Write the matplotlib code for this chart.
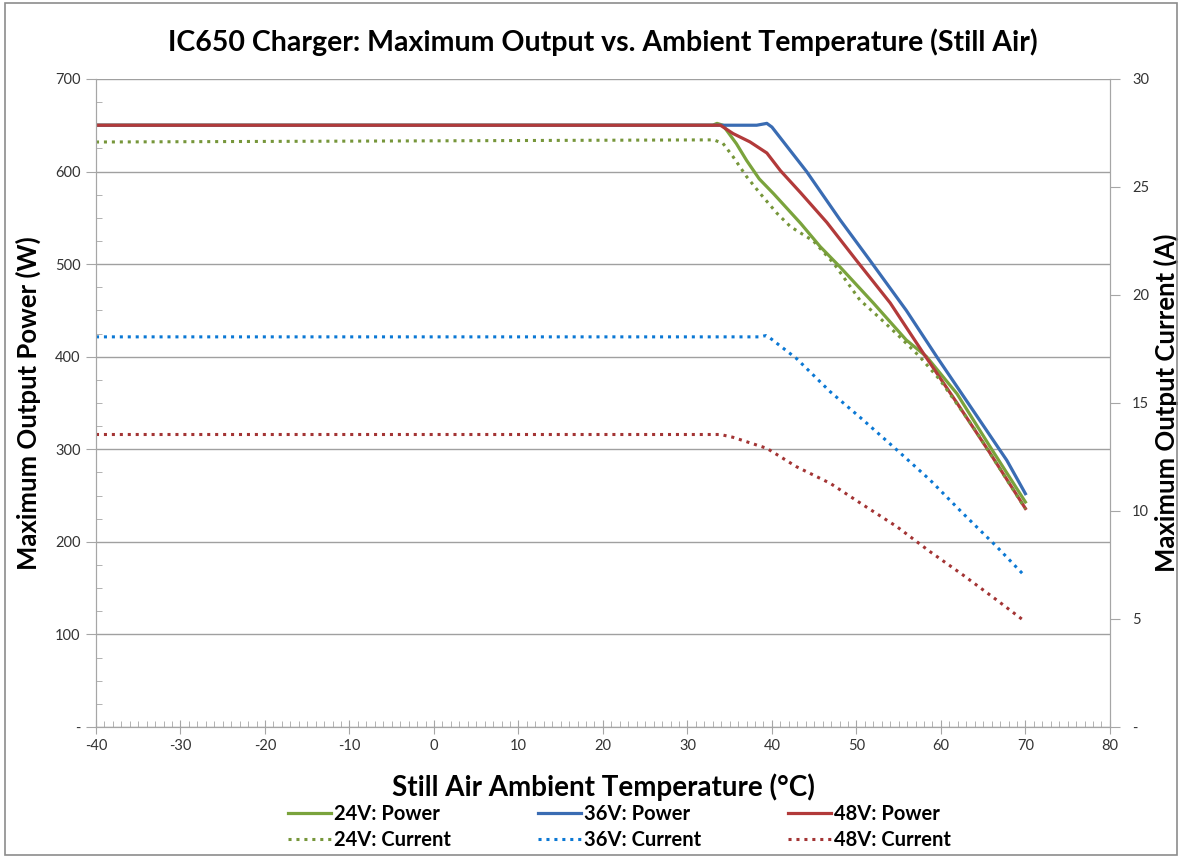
import matplotlib.pyplot as plt
from matplotlib.patches import Rectangle
from matplotlib.ticker import MultipleLocator, FuncFormatter

## Data ##
t_24_power = [-40, 33.0, 33.5, 34.2, 35.8, 37.0, 38.5, 40.2, 43.4, 45.7, 48.05, 52.0, 55.9, 58.3, 61.9, 65.8, 70]
w_24_power = [650, 650, 652, 650, 630, 612, 592, 576, 544, 519, 497, 458, 418, 400, 360, 303, 243]

t_36_power = [-40, 38.2, 39.4, 40.0, 44.1, 48.05, 51.6, 55.9, 59.5, 63.8, 67.8, 70]
w_36_power = [650, 650, 652, 648, 600, 548, 504, 450, 400, 342, 288, 252]

t_48_power = [-40, 33.9, 35.4, 37.4, 39.4, 41.0, 43.4, 46.5, 50.0, 54.0, 57.9, 61.9, 65.8, 70]
w_48_power = [650, 650, 641, 632, 620, 601, 577, 545, 504, 458, 404, 350, 296, 236]

t_24_current = [-40, 33.1, 34.2, 35.4, 37.0, 38.6, 40.6, 42.2, 44.9, 47.3, 50.4, 52.8, 55.1, 57.5, 59.9, 63.8, 70]
a_24_current = [27.08, 27.18, 27.02, 26.4, 25.48, 24.7, 23.78, 23.16, 22.5, 21.47, 19.77, 18.92, 18.07, 17.14, 16.06, 13.9, 10.1]

t_36_current = [-40, 38.6, 39.3, 39.8, 42.9, 46.9, 50.8, 54.8, 58.7, 62.6, 66.6, 70]
a_36_current = [18.06, 18.06, 18.12, 18.0, 17.06, 15.52, 14.21, 12.82, 11.44, 9.89, 8.35, 6.96]

t_48_current = [-40, 33.9, 35.4, 39.4, 42.9, 46.9, 50.8, 54.8, 58.7, 62.6, 66.6, 70]
a_48_current = [13.54, 13.54, 13.41, 12.9, 12.05, 11.28, 10.28, 9.27, 8.12, 7.04, 5.88, 4.87]

## Style ##
plt.rcParams['font.family'] = ['Lato', 'DejaVu Sans']
plt.rcParams['axes.unicode_minus'] = False
green = '#7aa33c'
blue = '#3a6cb3'
red = '#b23a3a'
green_dot = '#76963a'
blue_dot = '#0b78d4'
red_dot = '#a33434'
axis_gray = '#a6a6a6'
dots = (0, (1, 1.6))

fig = plt.figure(figsize=(11.82, 8.58), dpi=100)
ax = fig.add_axes([0.0812, 0.1527, 0.8578, 0.7553])
ax2 = ax.twinx()

l1, = ax.plot(t_24_power, w_24_power, color=green, lw=2.3, label='24V: Power')
l3, = ax.plot(t_36_power, w_36_power, color=blue, lw=2.3, label='36V: Power')
l5, = ax.plot(t_48_power, w_48_power, color=red, lw=2.3, label='48V: Power')
l2, = ax2.plot(t_24_current, a_24_current, color=green_dot, lw=2.2, ls=dots, label='24V: Current')
l4, = ax2.plot(t_36_current, a_36_current, color=blue_dot, lw=2.2, ls=dots, label='36V: Current')
l6, = ax2.plot(t_48_current, a_48_current, color=red_dot, lw=2.2, ls=dots, label='48V: Current')

ax.set_xlim(-40, 80)
ax.set_ylim(0, 700)
ax2.set_ylim(0, 30)

dash_zero = lambda v, p: '-' if v == 0 else f'{v:g}'
ax.xaxis.set_major_locator(MultipleLocator(10))
ax.xaxis.set_minor_locator(MultipleLocator(1))
ax.yaxis.set_major_locator(MultipleLocator(100))
ax.yaxis.set_minor_locator(MultipleLocator(25))
ax.yaxis.set_major_formatter(FuncFormatter(dash_zero))
ax2.yaxis.set_major_locator(MultipleLocator(5))
ax2.yaxis.set_major_formatter(FuncFormatter(dash_zero))

ax.grid(axis='y', which='major', color='#a0a0a0', linewidth=1.0)
ax.set_axisbelow(True)

for a in (ax, ax2):
    for s in a.spines.values():
        s.set_color(axis_gray)
    a.spines['top'].set_visible(False)

ax.tick_params(axis='both', which='major', direction='out', length=7, color=axis_gray,
               labelsize=10.5, labelcolor='#333333', pad=4)
ax.tick_params(axis='x', which='major', direction='inout', length=10)
ax.tick_params(axis='both', which='minor', direction='in', length=4, color=axis_gray)
ax2.tick_params(axis='y', which='major', direction='out', length=7, color=axis_gray,
                labelsize=10.5, labelcolor='#333333', pad=9)

ax.set_title('IC650 Charger: Maximum Output vs. Ambient Temperature (Still Air)',
             fontsize=20.5, fontweight='bold', pad=20)
ax.set_xlabel('Still Air Ambient Temperature (°C)', fontsize=20, fontweight='bold', labelpad=14)
ax.set_ylabel('Maximum Output Power (W)', fontsize=18.5, fontweight='bold', labelpad=10)
ax2.set_ylabel('Maximum Output Current (A)', fontsize=18.5, fontweight='bold', labelpad=3)

fig.legend(handles=[l1, l2, l3, l4, l5, l6], ncol=3, loc='lower center',
           bbox_to_anchor=(0.524, -0.012), frameon=False, prop={'size': 14.5, 'weight': 'bold'},
           handlelength=2.15, handletextpad=0.15, columnspacing=4.3, labelspacing=0.3)

fig.patches.append(Rectangle((0.004, 0.003), 0.992, 0.994, transform=fig.transFigure,
                             fill=False, edgecolor='#8c8c8c', linewidth=1.2))

fig.savefig('out.png', dpi=100)
